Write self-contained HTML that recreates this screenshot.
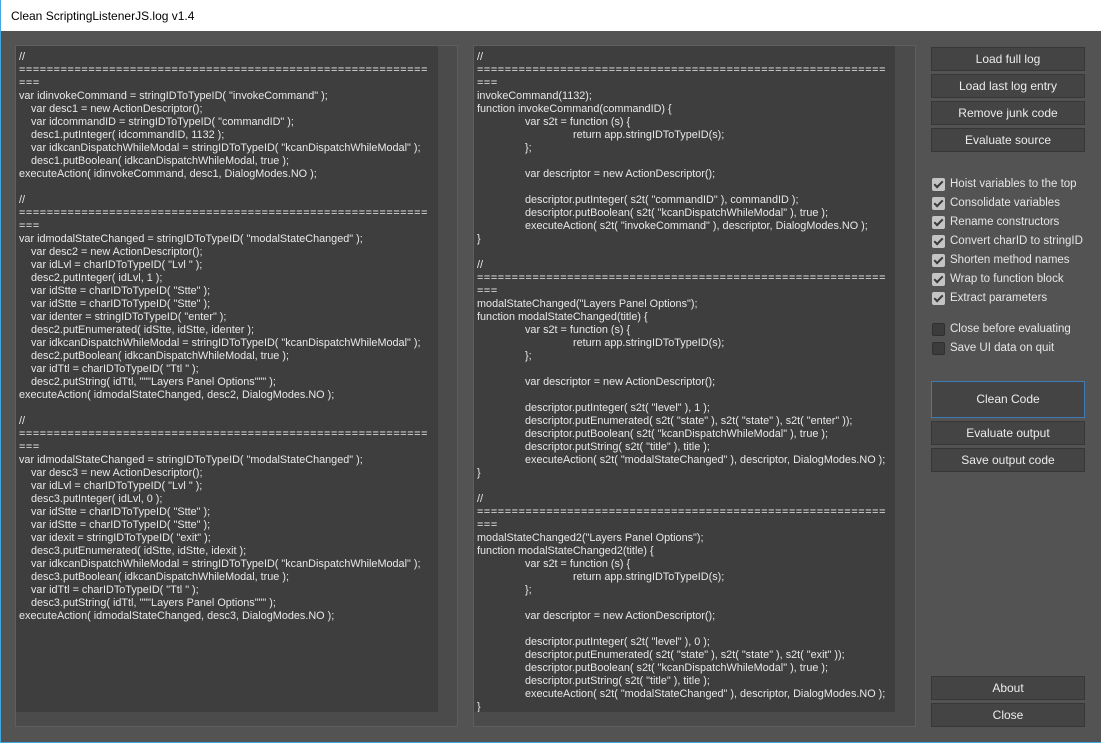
<!DOCTYPE html>
<html><head><meta charset="utf-8">
<style>
*{margin:0;padding:0;box-sizing:border-box}
body{width:1101px;height:743px;background:#535353;position:relative;overflow:hidden;font-family:"Segoe UI","Liberation Sans",sans-serif;color:#e6e6e6}
#title{position:absolute;left:0;top:0;width:1101px;height:31px;background:#fff;color:#000;font-size:12px;padding:9px 0 0 10px;border-left:1px solid #3fa9e0}
#lb{position:absolute;left:0;top:31px;width:1px;height:712px;background:#3fa9e0}
#bb{position:absolute;left:0;top:742px;width:1101px;height:1px;background:#3fa9e0}
.grp{position:absolute;border:1px solid #5e5e5e;background:#4b4b4b}
.ta{position:absolute;background:#3e3e3e;overflow:hidden}
.code{position:absolute;left:3px;top:5px;font-size:10.85px;line-height:13px;color:#e8e8e8}
.code div{height:13px;white-space:pre}
.eq{letter-spacing:0.6px}
.i1{padding-left:12px}
.t1{padding-left:48px}
.t2{padding-left:96px}
.btn{position:absolute;left:931px;width:154px;height:24px;background:#444;border:1px solid #373737;font-size:12px;text-align:center;line-height:22px;color:#ececec}
.cb{position:absolute;left:932px;font-size:11.5px;height:14px;line-height:14px;color:#e6e6e6}
.cb i{position:absolute;left:0;top:0;width:13px;height:13px;border-radius:2px;background:#c4c4c4}
.cb i:after{content:"";position:absolute;left:4px;top:1px;width:3px;height:7px;border:solid #3a3a3a;border-width:0 2px 2px 0;transform:rotate(45deg)}
.cb i.u{background:#3c3c3c;border:1px solid #2f2f2f}
.cb i.u:after{display:none}
.cb span{position:absolute;left:18px;top:-1px;white-space:nowrap}
</style></head><body>
<div id="title">Clean ScriptingListenerJS.log v1.4</div>
<div id="lb"></div><div id="bb"></div>

<div class="grp" style="left:15px;top:45px;width:443px;height:682px"></div>
<div class="ta" style="left:16px;top:46px;width:422px;height:666px">
<div class="code">
<div>//</div>
<div class="eq">===========================================================</div>
<div class="eq">===</div>
<div>var idinvokeCommand = stringIDToTypeID( "invokeCommand" );</div>
<div class="i1">var desc1 = new ActionDescriptor();</div>
<div class="i1">var idcommandID = stringIDToTypeID( "commandID" );</div>
<div class="i1">desc1.putInteger( idcommandID, 1132 );</div>
<div class="i1">var idkcanDispatchWhileModal = stringIDToTypeID( "kcanDispatchWhileModal" );</div>
<div class="i1">desc1.putBoolean( idkcanDispatchWhileModal, true );</div>
<div>executeAction( idinvokeCommand, desc1, DialogModes.NO );</div>
<div></div>
<div>//</div>
<div class="eq">===========================================================</div>
<div class="eq">===</div>
<div>var idmodalStateChanged = stringIDToTypeID( "modalStateChanged" );</div>
<div class="i1">var desc2 = new ActionDescriptor();</div>
<div class="i1">var idLvl = charIDToTypeID( "Lvl " );</div>
<div class="i1">desc2.putInteger( idLvl, 1 );</div>
<div class="i1">var idStte = charIDToTypeID( "Stte" );</div>
<div class="i1">var idStte = charIDToTypeID( "Stte" );</div>
<div class="i1">var identer = stringIDToTypeID( "enter" );</div>
<div class="i1">desc2.putEnumerated( idStte, idStte, identer );</div>
<div class="i1">var idkcanDispatchWhileModal = stringIDToTypeID( "kcanDispatchWhileModal" );</div>
<div class="i1">desc2.putBoolean( idkcanDispatchWhileModal, true );</div>
<div class="i1">var idTtl = charIDToTypeID( "Ttl " );</div>
<div class="i1">desc2.putString( idTtl, """Layers Panel Options""" );</div>
<div>executeAction( idmodalStateChanged, desc2, DialogModes.NO );</div>
<div></div>
<div>//</div>
<div class="eq">===========================================================</div>
<div class="eq">===</div>
<div>var idmodalStateChanged = stringIDToTypeID( "modalStateChanged" );</div>
<div class="i1">var desc3 = new ActionDescriptor();</div>
<div class="i1">var idLvl = charIDToTypeID( "Lvl " );</div>
<div class="i1">desc3.putInteger( idLvl, 0 );</div>
<div class="i1">var idStte = charIDToTypeID( "Stte" );</div>
<div class="i1">var idStte = charIDToTypeID( "Stte" );</div>
<div class="i1">var idexit = stringIDToTypeID( "exit" );</div>
<div class="i1">desc3.putEnumerated( idStte, idStte, idexit );</div>
<div class="i1">var idkcanDispatchWhileModal = stringIDToTypeID( "kcanDispatchWhileModal" );</div>
<div class="i1">desc3.putBoolean( idkcanDispatchWhileModal, true );</div>
<div class="i1">var idTtl = charIDToTypeID( "Ttl " );</div>
<div class="i1">desc3.putString( idTtl, """Layers Panel Options""" );</div>
<div>executeAction( idmodalStateChanged, desc3, DialogModes.NO );</div>
</div></div>

<div class="grp" style="left:473px;top:45px;width:443px;height:682px"></div>
<div class="ta" style="left:474px;top:46px;width:421px;height:666px">
<div class="code">
<div>//</div>
<div class="eq">===========================================================</div>
<div class="eq">===</div>
<div>invokeCommand(1132);</div>
<div>function invokeCommand(commandID) {</div>
<div class="t1">var s2t = function (s) {</div>
<div class="t2">return app.stringIDToTypeID(s);</div>
<div class="t1">};</div>
<div></div>
<div class="t1">var descriptor = new ActionDescriptor();</div>
<div></div>
<div class="t1">descriptor.putInteger( s2t( "commandID" ), commandID );</div>
<div class="t1">descriptor.putBoolean( s2t( "kcanDispatchWhileModal" ), true );</div>
<div class="t1">executeAction( s2t( "invokeCommand" ), descriptor, DialogModes.NO );</div>
<div>}</div>
<div></div>
<div>//</div>
<div class="eq">===========================================================</div>
<div class="eq">===</div>
<div>modalStateChanged("Layers Panel Options");</div>
<div>function modalStateChanged(title) {</div>
<div class="t1">var s2t = function (s) {</div>
<div class="t2">return app.stringIDToTypeID(s);</div>
<div class="t1">};</div>
<div></div>
<div class="t1">var descriptor = new ActionDescriptor();</div>
<div></div>
<div class="t1">descriptor.putInteger( s2t( "level" ), 1 );</div>
<div class="t1">descriptor.putEnumerated( s2t( "state" ), s2t( "state" ), s2t( "enter" ));</div>
<div class="t1">descriptor.putBoolean( s2t( "kcanDispatchWhileModal" ), true );</div>
<div class="t1">descriptor.putString( s2t( "title" ), title );</div>
<div class="t1">executeAction( s2t( "modalStateChanged" ), descriptor, DialogModes.NO );</div>
<div>}</div>
<div></div>
<div>//</div>
<div class="eq">===========================================================</div>
<div class="eq">===</div>
<div>modalStateChanged2("Layers Panel Options");</div>
<div>function modalStateChanged2(title) {</div>
<div class="t1">var s2t = function (s) {</div>
<div class="t2">return app.stringIDToTypeID(s);</div>
<div class="t1">};</div>
<div></div>
<div class="t1">var descriptor = new ActionDescriptor();</div>
<div></div>
<div class="t1">descriptor.putInteger( s2t( "level" ), 0 );</div>
<div class="t1">descriptor.putEnumerated( s2t( "state" ), s2t( "state" ), s2t( "exit" ));</div>
<div class="t1">descriptor.putBoolean( s2t( "kcanDispatchWhileModal" ), true );</div>
<div class="t1">descriptor.putString( s2t( "title" ), title );</div>
<div class="t1">executeAction( s2t( "modalStateChanged" ), descriptor, DialogModes.NO );</div>
<div>}</div>
</div></div>

<div class="btn" style="top:47px">Load full log</div>
<div class="btn" style="top:74px">Load last log entry</div>
<div class="btn" style="top:101px">Remove junk code</div>
<div class="btn" style="top:128px">Evaluate source</div>

<div class="cb" style="top:178px"><i></i><span>Hoist variables to the top</span></div>
<div class="cb" style="top:197px"><i></i><span>Consolidate variables</span></div>
<div class="cb" style="top:216px"><i></i><span>Rename constructors</span></div>
<div class="cb" style="top:235px"><i></i><span>Convert charID to stringID</span></div>
<div class="cb" style="top:254px"><i></i><span>Shorten method names</span></div>
<div class="cb" style="top:273px"><i></i><span>Wrap to function block</span></div>
<div class="cb" style="top:292px"><i></i><span>Extract parameters</span></div>
<div class="cb" style="top:323px"><i class="u"></i><span>Close before evaluating</span></div>
<div class="cb" style="top:342px"><i class="u"></i><span>Save UI data on quit</span></div>

<div class="btn" style="top:381px;height:37px;line-height:35px;border-color:#3d7ab8">Clean Code</div>
<div class="btn" style="top:421px">Evaluate output</div>
<div class="btn" style="top:448px">Save output code</div>
<div class="btn" style="top:676px">About</div>
<div class="btn" style="top:703px">Close</div>
</body></html>
